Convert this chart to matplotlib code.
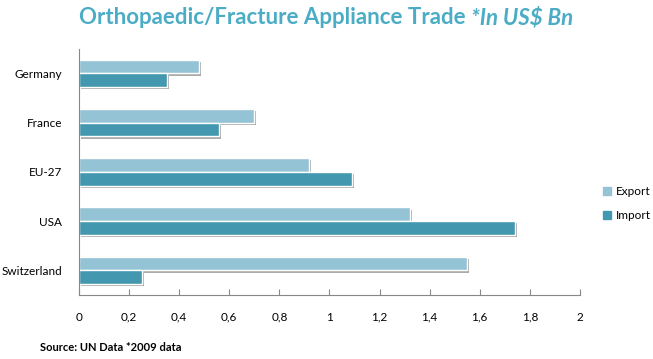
import matplotlib.pyplot as plt
import matplotlib.patheffects as pe
import numpy as np

countries = ['Germany', 'France', 'EU-27', 'USA', 'Switzerland']
export_vals = [0.48, 0.70, 0.92, 1.32, 1.55]
import_vals = [0.35, 0.56, 1.09, 1.74, 0.25]
x_ticks = [0, 0.2, 0.4, 0.6, 0.8, 1, 1.2, 1.4, 1.6, 1.8, 2]
x_labels = ['0', '0,2', '0,4', '0,6', '0,8', '1', '1,2', '1,4', '1,6', '1,8', '2']

EXPORT_C = '#93C3D5'
IMPORT_C = '#4398AF'
TITLE_C = '#4BACC6'

plt.rcParams['font.family'] = ['Lato', 'DejaVu Sans']

fig = plt.figure(figsize=(6.53, 3.59), dpi=100)
ax = fig.add_axes([0.121, 0.178, 0.767, 0.686])

y = np.arange(len(countries))
h = 0.28
shadow = [pe.SimplePatchShadow(offset=(1.5, -1.5), shadow_rgbFace='#888888', alpha=0.7), pe.Normal()]
b1 = ax.barh(y - h / 2, export_vals, height=h, color=EXPORT_C, edgecolor='white', linewidth=1)
b2 = ax.barh(y + h / 2, import_vals, height=h, color=IMPORT_C, edgecolor='white', linewidth=1)
for bar in list(b1) + list(b2):
    bar.set_path_effects(shadow)

ax.set_ylim(len(countries) - 0.5, -0.5)
ax.set_xlim(0, 2)
ax.set_yticks(y)
ax.set_yticklabels(countries, fontsize=8.5)
ax.set_xticks(x_ticks)
ax.set_xticklabels(x_labels, fontsize=8.5)
ax.tick_params(axis='y', length=0, pad=12)
ax.tick_params(axis='x', direction='in', length=4, color='#888888', pad=12)
for s in ['top', 'right']:
    ax.spines[s].set_visible(False)
for s in ['left', 'bottom']:
    ax.spines[s].set_color('#888888')

handles = [plt.Rectangle((0, 0), 1, 1, color=EXPORT_C), plt.Rectangle((0, 0), 1, 1, color=IMPORT_C)]
ax.legend(handles, ['Export', 'Import'], loc='center left', bbox_to_anchor=(1.025, 0.37),
          frameon=False, fontsize=8.5, handlelength=0.7, handleheight=0.7,
          handletextpad=0.4, labelspacing=1.1)

fig.text(0.722, 0.95, 'Orthopaedic/Fracture Appliance Trade ', color=TITLE_C, fontsize=16,
         fontweight='bold', ha='right', va='center')
fig.text(0.722, 0.95, '*In US$ Bn', color=TITLE_C, fontsize=16, fontweight='bold',
         style='italic', ha='left', va='center')
fig.text(0.061, 0.033, 'Source: UN Data *2009 data', fontsize=8, fontweight='bold', va='center')

fig.savefig('out.png', dpi=100)
